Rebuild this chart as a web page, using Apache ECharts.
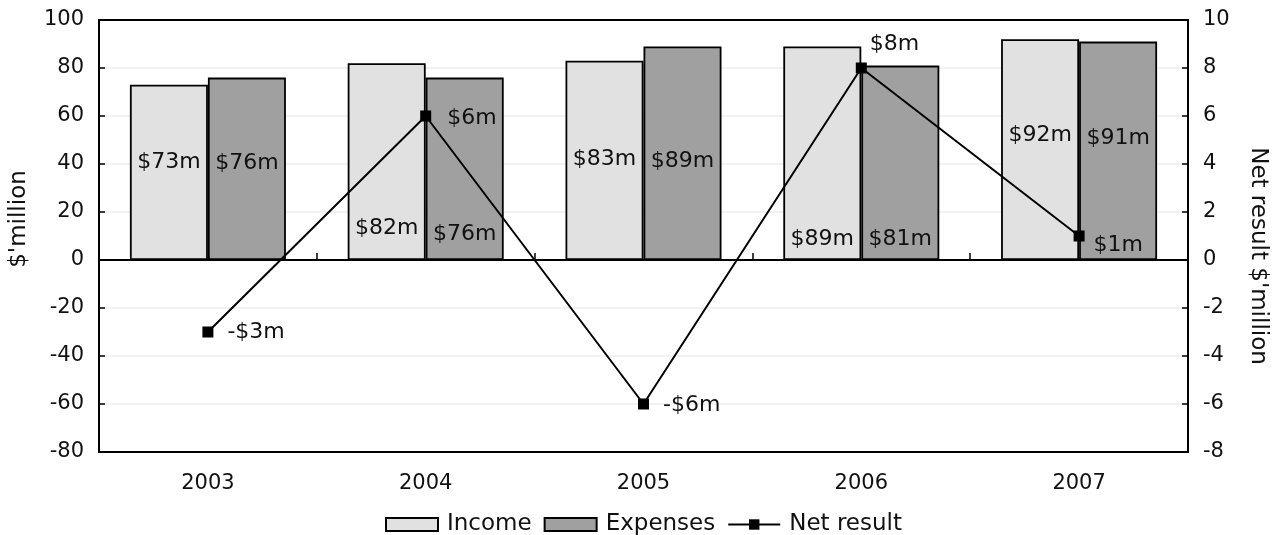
<!DOCTYPE html>
<html>
<head>
<meta charset="utf-8">
<title>Income, expenses and net result 2003–2007</title>
<script src="https://cdn.jsdelivr.net/npm/echarts@6/dist/echarts.min.js"></script>
<style>
  html, body { margin: 0; padding: 0; background: #fff; }
  #chart { width: 1278px; height: 535px; }
</style>
</head>
<body>
<div id="chart"></div>
<script>
// Financial years
const years = ['2003', '2004', '2005', '2006', '2007'];

// $ million
const income = [73, 82, 83, 89, 92];
const expenses = [76, 76, 89, 81, 91];

// Net result, $ million (right axis)
const netResult = [-3, 6, -6, 8, 1];

// Axis ranges and tick steps
const leftAxis = { min: -80, max: 100, interval: 20 };
const rightAxis = { min: -8, max: 10, interval: 2 };

// Hand-placed label nudges (pixels) so labels sit clear of the line
const incomeLabelDy = [-10, 67, -1, 86, -14];
const expenseLabelDy = [-6, 65, 8, 76, -13];
const netLabelOffset = [[0, 0], [2, 2], [0, 1], [-11, -24], [-5, 9]];

const FONT = 'Verdana, "DejaVu Sans", sans-serif';
const INK = '#111';

const money = v => (v < 0 ? '-$' : '$') + Math.abs(v) + 'm';

function barData(values, dy) {
  return values.map((v, i) => ({
    value: v,
    label: { offset: [0, dy[i]] }
  }));
}

const chart = echarts.init(document.getElementById('chart'), null, { renderer: 'canvas' });

chart.setOption({
  animation: false,
  backgroundColor: '#fff',
  textStyle: { fontFamily: FONT, color: INK },
  grid: {
    left: 97, right: 90, top: 20, bottom: 83,
    show: true, borderColor: '#000', borderWidth: 2, backgroundColor: 'transparent'
  },
  legend: {
    left: 380, top: 508,
    itemWidth: 52, itemHeight: 13, itemGap: 12,
    textStyle: { fontFamily: FONT, fontSize: 23, color: INK, padding: [0, 0, 0, 4] },
    data: [
      { name: 'Income', icon: 'rect' },
      { name: 'Expenses', icon: 'rect' },
      { name: 'Net result' }
    ]
  },
  xAxis: [
    {
      type: 'category', data: years, position: 'bottom',
      axisLine: { onZero: false, lineStyle: { color: '#000', width: 2 } },
      axisTick: { show: false },
      axisLabel: { fontFamily: FONT, fontSize: 21, color: INK, margin: 21 },
      splitLine: { show: false }
    },
    {
      type: 'category', data: years, position: 'bottom',
      axisLine: { onZero: true, onZeroAxisIndex: 0, lineStyle: { color: '#000', width: 2 } },
      axisTick: { show: true, inside: true, length: 7, lineStyle: { color: '#000', width: 1.5 } },
      axisLabel: { show: false },
      splitLine: { show: false }
    }
  ],
  yAxis: [
    {
      type: 'value', position: 'left',
      min: leftAxis.min, max: leftAxis.max, interval: leftAxis.interval,
      name: "$'million", nameLocation: 'middle', nameGap: 68,
      nameTextStyle: { fontFamily: FONT, fontSize: 23, color: INK, padding: [0, 0, 0, 34] },
      axisLine: { show: true, lineStyle: { color: '#000', width: 2 } },
      axisTick: { show: true, inside: true, length: 6, lineStyle: { color: '#000', width: 1.5 } },
      axisLabel: { fontFamily: FONT, fontSize: 21, color: INK, margin: 15 },
      splitLine: {
        show: true, showMinLine: false, showMaxLine: false,
        lineStyle: { color: '#eeeeee', width: 1.5 }
      }
    },
    {
      type: 'value', position: 'right',
      min: rightAxis.min, max: rightAxis.max, interval: rightAxis.interval,
      name: "Net result $'million", nameLocation: 'middle', nameGap: 58, nameRotate: -90,
      nameTextStyle: { fontFamily: FONT, fontSize: 23, color: INK, padding: [0, 0, 0, 40] },
      axisLine: { show: true, lineStyle: { color: '#000', width: 2 } },
      axisTick: { show: true, inside: true, length: 6, lineStyle: { color: '#000', width: 1.5 } },
      axisLabel: { fontFamily: FONT, fontSize: 21, color: INK, margin: 15 },
      splitLine: { show: false }
    }
  ],
  series: [
    {
      name: 'Income', type: 'bar', xAxisIndex: 0, yAxisIndex: 0,
      barWidth: 78, barGap: '0%',
      itemStyle: { color: '#e1e1e1', borderColor: '#000', borderWidth: 1.8 },
      label: {
        show: true, position: 'inside', formatter: p => money(p.value),
        fontFamily: FONT, fontSize: 22, color: INK
      },
      data: barData(income, incomeLabelDy)
    },
    {
      name: 'Expenses', type: 'bar', xAxisIndex: 0, yAxisIndex: 0,
      barWidth: 78, barGap: '0%',
      itemStyle: { color: '#a0a0a0', borderColor: '#000', borderWidth: 1.8 },
      label: {
        show: true, position: 'inside', formatter: p => money(p.value),
        fontFamily: FONT, fontSize: 22, color: INK
      },
      data: barData(expenses, expenseLabelDy)
    },
    {
      name: 'Net result', type: 'line', xAxisIndex: 0, yAxisIndex: 1,
      symbol: 'rect', symbolSize: 11, z: 5,
      lineStyle: { color: '#000', width: 2 },
      itemStyle: { color: '#000' },
      label: {
        show: true, position: 'right', distance: 14, formatter: p => money(p.value),
        fontFamily: FONT, fontSize: 22, color: INK
      },
      data: netResult.map((v, i) => ({ value: v, label: { offset: netLabelOffset[i] } }))
    }
  ]
});
</script>
</body>
</html>
